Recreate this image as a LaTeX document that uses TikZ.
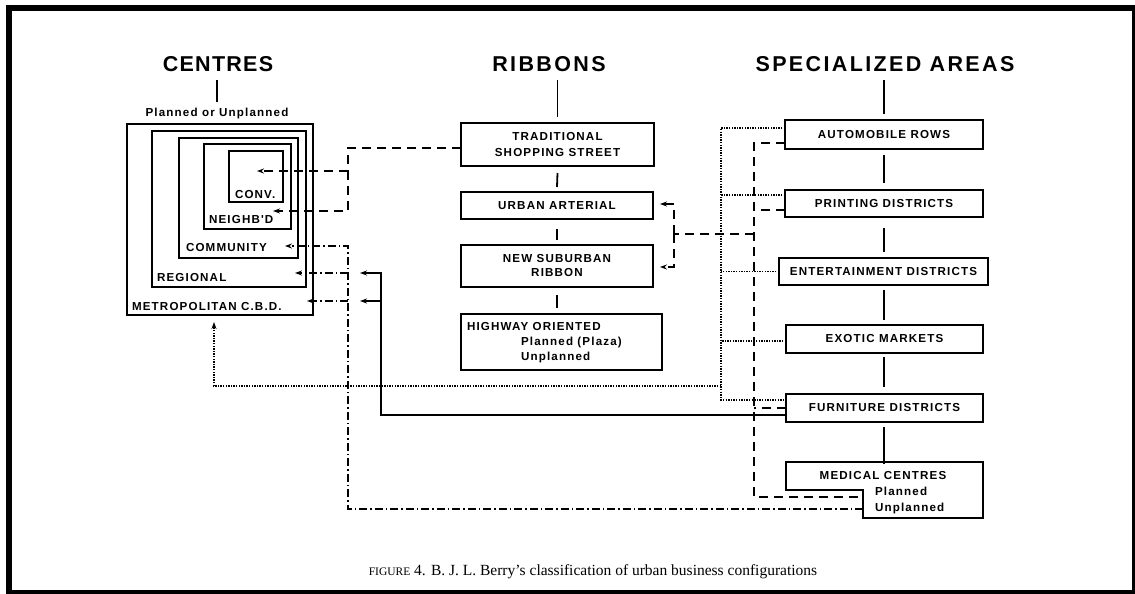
\documentclass[tikz,border=0pt]{standalone}
\usepackage{fontspec}
\usetikzlibrary{arrows.meta}
\newfontfamily\headfont[LetterSpace=6]{Liberation Sans}
\newfontfamily\headwide[LetterSpace=11]{Liberation Sans}
\newfontfamily\labfamily[LetterSpace=10]{Liberation Sans}
\newfontfamily\capfont{Liberation Serif}
\newcommand\lab{\labfamily\bfseries\fontsize{11.6pt}{14pt}\selectfont}
\newcommand\labsk[1]{\labfamily\bfseries\fontsize{11.6pt}{#1pt}\selectfont}
\newcommand\hdf{\headfont\bfseries\fontsize{21.5pt}{26pt}\selectfont}
\newcommand\hdw{\headwide\bfseries\fontsize{21.5pt}{26pt}\selectfont}
\begin{document}
\begin{tikzpicture}[x=1pt,y=-1pt,
  every node/.style={inner sep=0pt, outer sep=0pt},
  boxs/.style={draw, line width=1.8pt, align=center, font=\lab},
  lbl/.style={font=\lab, text height=8.3pt, text depth=0pt},
  hd/.style={font=\hdf, text height=15.6pt, text depth=0pt},
  hdwide/.style={hd, font=\hdw},
  tick/.style={line width=1.8pt},
  cline/.style={line width=1.5pt},
  dsh/.style={cline, dash pattern=on 9pt off 6pt},
  dd/.style={cline, dash pattern=on 8pt off 3pt on 1.5pt off 3pt},
  dot/.style={line width=1.6pt, dash pattern=on 1.4pt off 1.2pt},
  arr/.style={-{Stealth[length=7pt,width=5pt]}},
]
\useasboundingbox (0,0) rectangle (1135,594);
\draw[line width=6pt] (9,8) rectangle (1135,593);

% headings
\node[hd] (hC) at (218,64) {CENTRES};
\node[hdwide] (hR) at (549,64) {RIBBONS};
\node[hdwide] (hS) at (885,64) {SPECIALIZED AREAS};
\node[lbl] (pl) at (217,112) {Planned or Unplanned};

% centres
\node[boxs, minimum width=186pt, minimum height=191pt] (cbd) at (220,219.5) {};
\node[boxs, minimum width=154pt, minimum height=156pt] (reg) at (229,209) {};
\node[boxs, minimum width=119pt, minimum height=120pt] (com) at (238.5,198) {};
\node[boxs, minimum width=87pt, minimum height=85pt] (nei) at (247.5,186.5) {};
\node[boxs, minimum width=54pt, minimum height=51pt] (conv) at (256,176.5) {};
\node[lbl, anchor=west] (lconv) at (235,194) {CONV.};
\node[lbl, anchor=west] (lnei) at (209,219) {NEIGHB'D};
\node[lbl, anchor=west] (lcom) at (186,247) {COMMUNITY};
\node[lbl, anchor=west] (lreg) at (157,277) {REGIONAL};
\node[lbl, anchor=west] (lcbd) at (132,306) {METROPOLITAN C.B.D.};

% ribbons
\node[boxs, minimum width=193pt, minimum height=43pt, font=\labsk{16}] (trad) at (557.5,144.5) {TRADITIONAL\\SHOPPING STREET};
\node[boxs, minimum width=192pt, minimum height=27pt] (urban) at (557,205.5) {URBAN ARTERIAL};
\node[boxs, minimum width=192pt, minimum height=42pt, font=\labsk{14}] (newsub) at (557,266) {NEW SUBURBAN\\RIBBON};
\node[boxs, minimum width=201pt, minimum height=56pt] (hwy) at (561.5,342) {};
\node[lbl, anchor=west] (hw1) at (467,326) {HIGHWAY ORIENTED};
\node[lbl, anchor=west] (hw2) at (521,341) {Planned (Plaza)};
\node[lbl, anchor=west] (hw3) at (521,356) {Unplanned};

% specialized areas
\node[boxs, minimum width=198pt, minimum height=29pt] (auto) at (884,134.5) {AUTOMOBILE ROWS};
\node[boxs, minimum width=198pt, minimum height=27pt] (print) at (884,203.5) {PRINTING DISTRICTS};
\node[boxs, minimum width=209pt, minimum height=27pt] (ent) at (883.5,271.5) {ENTERTAINMENT DISTRICTS};
\node[boxs, minimum width=197pt, minimum height=28pt] (exo) at (884.5,339) {EXOTIC MARKETS};
\node[boxs, minimum width=197pt, minimum height=28pt] (furn) at (884.5,408) {FURNITURE DISTRICTS};
\draw[line width=1.8pt] (786,462) -- (983,462) -- (983,518) -- (863,518) -- (863,490) -- (786,490) -- cycle;
\node[lbl] (med) at (883,475) {MEDICAL CENTRES};
\node[lbl, anchor=west] (medp) at (875,491) {Planned};
\node[lbl, anchor=west] (medu) at (875,507) {Unplanned};
\coordinate (medPin) at (863,497);
\coordinate (medUin) at (863,509);

% ticks
\draw[tick] ([yshift=-8pt]pl.north |- hC.south) -- ([yshift=6pt]pl.north);
\draw[tick] ([yshift=6pt]trad.north) -- ([yshift=-8pt]trad.north |- hR.south);
\draw[tick] ([yshift=-7pt]trad.south) -- ([yshift=5pt]urban.north);
\draw[tick] ([yshift=-10pt]urban.south) -- ([yshift=5pt]newsub.north);
\draw[tick] ([yshift=-8pt]newsub.south) -- ([yshift=6pt]newsub.south |- hwy.north);
\draw[tick] ([yshift=6pt]auto.north) -- ([yshift=-8pt]auto.north |- hS.south);
\draw[tick] ([yshift=-6pt]auto.south) -- ([yshift=7pt]print.north);
\draw[tick] ([yshift=-11pt]print.south) -- ([yshift=6pt]print.south |- ent.north);
\draw[tick] ([yshift=-5pt]ent.south -| auto.south) -- ([yshift=5pt]exo.north -| auto.south);
\draw[tick] ([yshift=-4pt]exo.south -| auto.south) -- ([yshift=7pt]furn.north -| auto.south);
\draw[tick] ([yshift=-5pt]furn.south -| auto.south) -- ([yshift=7pt]med.north -| auto.south) ;

% arrow targets and junctions
\coordinate (tConv) at (257,171);
\coordinate (tNei) at (273,211);
\coordinate (tCom) at (285,246);
\coordinate (tReg) at (295,273);
\coordinate (tCbd) at (307,301);
\coordinate (tReg2) at (360,273);
\coordinate (tCbd2) at (360,301);
\coordinate (tCbdB) at (214,322);
\coordinate (tUrb) at (660,204);
\coordinate (tNew) at (660,267);

% traditional shopping street -> conv, neighb'd
\draw[dsh] ([yshift=-3.5pt]trad.west) -- (348,148) -- (348,171);
\draw[dsh, arr] (348,171) -- (tConv);
\draw[dsh, arr] (348,171) -- (348,211) -- (tNei);

% medical (unplanned) -> community, regional, cbd
\draw[dd, arr] (medUin) -- (348,509) -- (348,246) -- (tCom);
\draw[dd, arr] (348,273) -- (tReg);
\draw[dd, arr] (348,301) -- (tCbd);

% furniture -> regional, cbd
\draw[cline, arr] ([yshift=-7pt]furn.west) -- (381,415) -- (381,273) -- (tReg2);
\draw[cline, arr] (381,301) -- (tCbd2);

% dotted: specialized areas -> cbd
\draw[dot] ([yshift=6.5pt]auto.west) -- (721,128) -- (721,400) -- ([yshift=8pt]furn.west);
\draw[dot] ([yshift=8.5pt]print.west) -- (721,195);
\draw[dot] (ent.west) -- (721,271.5);
\draw[dot] ([yshift=-2pt]exo.west) -- (721,341);
\draw[dot, arr] (721,386) -- (214,386) -- (tCbdB);

% dashed: specialized areas -> ribbons, medical planned
\draw[dsh] ([yshift=-8.5pt]auto.west) -- (754,143) -- (754,497) -- (medPin);
\draw[dsh] ([yshift=-6.5pt]print.west) -- (754,210);
\draw[dsh] ([yshift=0pt]furn.west) -- (754,408);
\draw[dsh] (754,234) -- (674,234);
\draw[dsh, arr] (674,234) -- (674,204) -- (tUrb);
\draw[dsh, arr] (674,234) -- (674,267) -- (tNew);

% caption
\node[font=\capfont\fontsize{15.5pt}{18pt}\selectfont] (cap) at (593,572) {{\fontsize{11.5pt}{14pt}\selectfont FIGURE} 4. B. J. L. Berry’s classification of urban business configurations};
\end{tikzpicture}
\end{document}
